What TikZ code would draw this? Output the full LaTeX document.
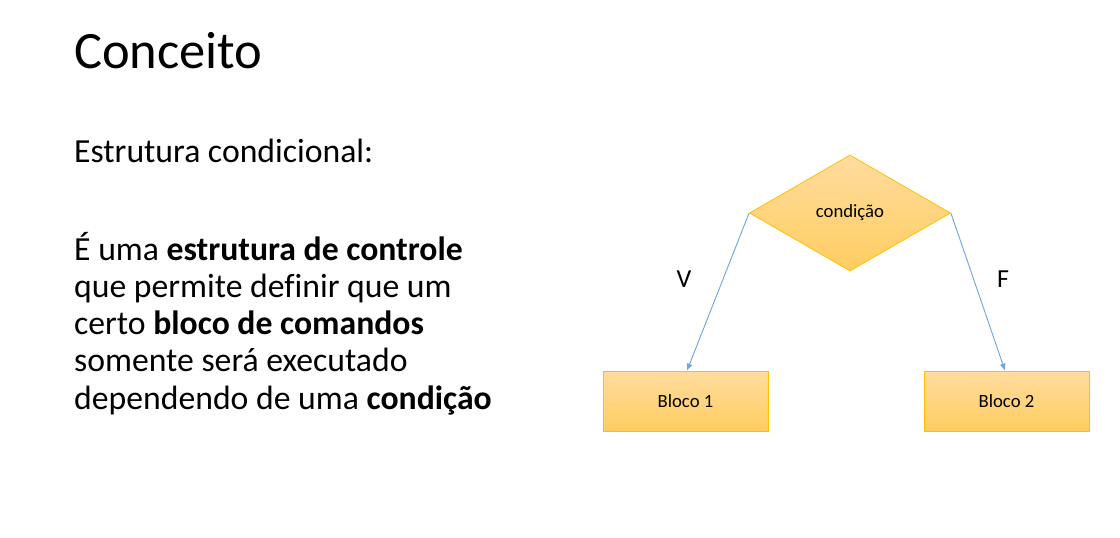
\documentclass[tikz,border=0pt]{standalone}
\usepackage{fontspec}
\setmainfont{Carlito}[Ligatures=NoCommon]
\usetikzlibrary{shapes.geometric,arrows.meta}
\definecolor{fillTop}{HTML}{FFDC9F}
\definecolor{fillBot}{HTML}{FFCD60}
\definecolor{edgeOrange}{HTML}{FFC000}
\definecolor{arrowBlue}{HTML}{6FA5D8}
\tikzset{
  txt/.style={anchor=base west,inner sep=0pt},
  shade box/.style={draw=edgeOrange,line width=0.8pt,top color=fillTop,bottom color=fillBot},
  bloco/.style={shade box,rectangle,minimum width=165pt,minimum height=60pt,inner sep=0pt,font=\fontsize{18.7}{20}\selectfont},
  decisao/.style={shade box,diamond,minimum width=201pt,minimum height=116pt,inner sep=0pt,font=\fontsize{18.7}{20}\selectfont},
  seta/.style={draw=arrowBlue,line width=0.9pt,-{Latex[length=7pt,width=6pt]}}
}
\begin{document}
\begin{tikzpicture}[x=1pt,y=-1pt]
  \useasboundingbox[fill=white] (0,0) rectangle (1120,538);
  \node[txt,font=\fontsize{52.5}{60}\selectfont] (title) at (74,68) {Conceito};
  \node[txt,font=\fontsize{33.7}{37}\selectfont] (sub) at (74,162) {Estrutura condicional:};
  \node[txt,font=\fontsize{33.7}{37.2}\selectfont,align=left,anchor=north west] (body) at (74,232) {%
    É uma \textbf{estrutura de controle}\\
    que permite definir que um\\
    certo \textbf{bloco de comandos}\\
    somente será executado\\
    dependendo de uma \textbf{condição}};
  \draw
    (850,213) node[decisao] (cond){condição}
    (685.5,401) node[bloco] (b1){Bloco 1}
    (1006.5,401) node[bloco] (b2){Bloco 2}
    (684,279) node[font=\fontsize{26}{28}\selectfont] (v){V}
    (1003,279) node[font=\fontsize{26}{28}\selectfont] (f){F};
  \begin{scope}[seta]
    \draw (cond.west) to ([xshift=1.5pt]b1.north);
    \draw (cond.east) to ([xshift=-1.5pt]b2.north);
  \end{scope}
\end{tikzpicture}
\end{document}
